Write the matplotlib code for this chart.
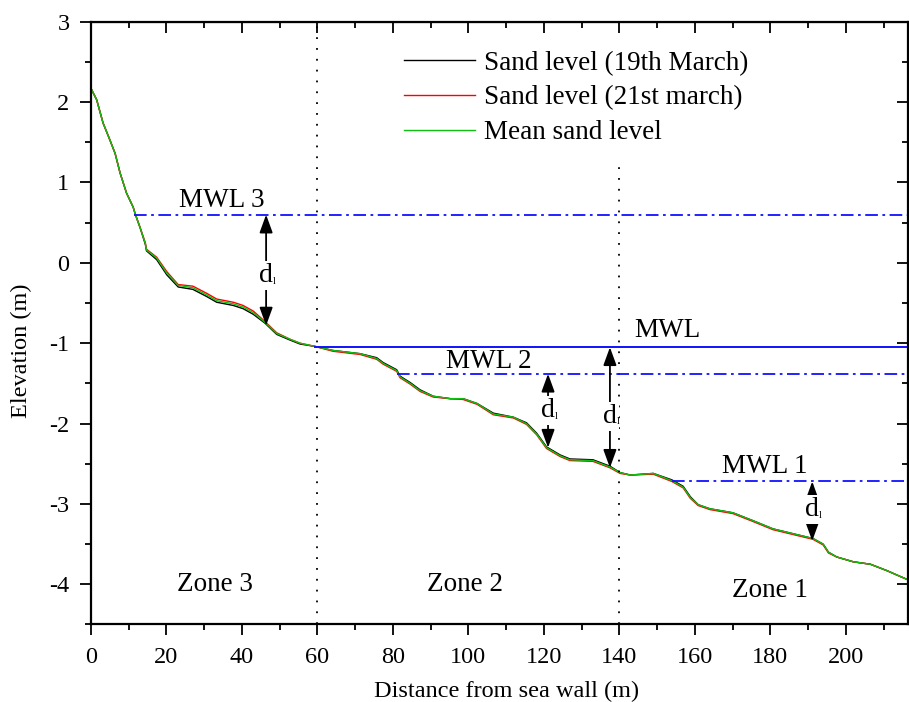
import numpy as np
import matplotlib.pyplot as plt

plt.rcParams['font.family'] = ['Liberation Serif', 'DejaVu Serif']
plt.rcParams['axes.unicode_minus'] = False

# distance from sea wall (m)
dist = [0.0, 1.5, 3.2, 5.0, 6.4, 7.7, 9.4, 11.2, 11.7, 13.0, 14.4, 14.7, 17.4, 20.1,
        23.1, 27.0, 30.7, 33.3, 37.7, 40.3, 43.0, 46.1, 49.2, 52.7, 55.4, 59.4, 64.1,
        71.3, 75.7, 77.4, 81.0, 81.9, 84.6, 87.2, 90.7, 95.2, 98.6, 102.3, 106.6, 111.9,
        115.4, 118.1, 120.7, 124.3, 126.9, 133.0, 137.5, 140.2, 142.9, 149.0, 153.9,
        156.9, 158.8, 160.9, 164.0, 170.1, 175.5, 180.7, 186.0, 191.3, 194.0, 195.4,
        197.6, 202.0, 206.5, 210.9, 214.3, 216.3]

# mean sand level
level_mean = [2.17, 2.03, 1.74, 1.53, 1.36, 1.12, 0.87, 0.69, 0.61, 0.44, 0.24, 0.16, 0.06, -0.13,
              -0.28, -0.31, -0.40, -0.47, -0.51, -0.55, -0.62, -0.74, -0.88, -0.95, -1.00, -1.04, -1.09,
              -1.13, -1.19, -1.25, -1.34, -1.42, -1.50, -1.59, -1.66, -1.69, -1.69, -1.75, -1.88, -1.92,
              -2.00, -2.13, -2.30, -2.40, -2.45, -2.46, -2.54, -2.61, -2.64, -2.62, -2.71,
              -2.79, -2.92, -3.01, -3.06, -3.11, -3.21, -3.31, -3.37, -3.43, -3.50, -3.60,
              -3.66, -3.72, -3.75, -3.83, -3.90, -3.94]

# sand level 19th March
level_19 = [2.17, 2.03, 1.74, 1.53, 1.36, 1.12, 0.87, 0.69, 0.61, 0.44, 0.23, 0.15, 0.04, -0.15,
            -0.30, -0.33, -0.42, -0.49, -0.53, -0.57, -0.64, -0.75, -0.89, -0.96, -1.01, -1.04, -1.09,
            -1.13, -1.18, -1.24, -1.33, -1.41, -1.49, -1.58, -1.66, -1.69, -1.69, -1.75, -1.87, -1.92,
            -1.99, -2.12, -2.29, -2.39, -2.44, -2.45, -2.53, -2.61, -2.64, -2.62, -2.70,
            -2.78, -2.91, -3.01, -3.06, -3.11, -3.21, -3.31, -3.37, -3.43, -3.50, -3.60,
            -3.66, -3.72, -3.75, -3.83, -3.90, -3.94]

# sand level 21st March
level_21 = [2.17, 2.03, 1.74, 1.53, 1.36, 1.12, 0.87, 0.69, 0.61, 0.44, 0.25, 0.17, 0.07, -0.11,
            -0.27, -0.29, -0.38, -0.45, -0.49, -0.53, -0.60, -0.73, -0.87, -0.95, -1.00, -1.04, -1.10,
            -1.14, -1.20, -1.26, -1.35, -1.43, -1.51, -1.60, -1.67, -1.69, -1.70, -1.76, -1.89, -1.93,
            -2.01, -2.14, -2.31, -2.41, -2.46, -2.47, -2.55, -2.62, -2.64, -2.63, -2.72,
            -2.80, -2.93, -3.02, -3.07, -3.12, -3.22, -3.32, -3.38, -3.44, -3.51, -3.61,
            -3.66, -3.72, -3.75, -3.83, -3.90, -3.94]

# water levels
mwl_levels = [0.60, -1.38, -2.72]
mwl_starts = [11.4, 81.1, 154.0]
mwl_main = -1.05
mwl_main_start = 59.4
mwl_labels = ['MWL 3', 'MWL 2', 'MWL', 'MWL 1']
mwl_lab_x = [34.7, 105.5, 152.6, 178.6]
mwl_lab_y = [0.78, -1.23, -0.84, -2.54]

# depth arrows: x position, top, bottom, label height
arrow_x = [46.4, 121.1, 137.5, 191.1]
arrow_top = [0.60, -1.38, -1.05, -2.72]
arrow_bot = [-0.78, -2.30, -2.55, -3.46]
arrow_lab_y = [-0.16, -1.84, -1.91, -3.07]

zone_names = ['Zone 3', 'Zone 2', 'Zone 1']
zone_x = [32.9, 99.1, 180.0]
zone_y = [-4.0, -4.0, -4.08]

xmax = 216.5

fig = plt.figure(figsize=(9.09, 7.02), dpi=100)
ax = fig.add_axes([0.1001, 0.1104, 0.8989, 0.8586])

ax.plot(dist, level_19, color='black', lw=1.0, label='Sand level (19th March)')
ax.plot(dist, level_21, color='red', lw=1.0, label='Sand level (21st march)')
ax.plot(dist, level_mean, color='#10c010', lw=1.0, label='Mean sand level')

# zone boundaries
ax.plot([60, 60], [-4.5, 3], color='black', lw=1.3, ls=(0, (1, 5)))
ax.plot([140, 140], [-4.5, 1.25], color='black', lw=1.3, ls=(0, (1, 5)))

# water levels
dashdot = (0, (7, 2.5, 1.5, 2.5))
for lev, x0 in zip(mwl_levels, mwl_starts):
    ax.plot([x0, xmax], [lev, lev], color='#1010ff', lw=1.3, ls=dashdot)
ax.plot([mwl_main_start, xmax], [mwl_main, mwl_main], color='#1010ff', lw=1.4)

for lab, lx, ly in zip(mwl_labels, mwl_lab_x, mwl_lab_y):
    ax.text(lx, ly, lab, fontsize=19.5, ha='center', va='center')

for x, yt, yb, yl in zip(arrow_x, arrow_top, arrow_bot, arrow_lab_y):
    ax.annotate('', xy=(x, yt), xytext=(x, yb),
                arrowprops=dict(arrowstyle='<|-|>,head_length=0.55,head_width=0.2',
                                mutation_scale=20, color='black', lw=1.3,
                                shrinkA=0, shrinkB=0))
    ax.text(x, yl, 'd', fontsize=20, ha='center', va='center',
            bbox=dict(facecolor='white', edgecolor='none', pad=1.5))
    ax.annotate('l', xy=(x, yl), xytext=(5, -4), textcoords='offset points',
                fontsize=7, ha='left', va='center')

for name, zx, zy in zip(zone_names, zone_x, zone_y):
    ax.text(zx, zy, name, fontsize=19.5, ha='center', va='center')

ax.set_xlim(0, xmax)
ax.set_ylim(-4.5, 3)
ax.set_xticks(np.arange(0, 201, 20))
ax.set_xticks(np.arange(10, 216, 10), minor=True)
ax.set_yticks(np.arange(-4, 3.1, 1))
ax.set_yticks(np.arange(-4.5, 3.0, 0.5), minor=True)
ax.tick_params(which='both', labelsize=17.5, width=1.3, direction='out')
ax.tick_params(which='major', length=8)
ax.tick_params(which='minor', length=4.5)
ax.tick_params(axis='x', which='major', pad=8.5)
ax.tick_params(axis='y', which='major', pad=7.5)
for s in ax.spines.values():
    s.set_linewidth(1.6)

# top and right ticks point inward
sec_x = ax.secondary_xaxis('top')
sec_x.set_xticks(np.arange(0, 201, 20))
sec_x.set_xticks(np.arange(10, 216, 10), minor=True)
sec_x.tick_params(which='both', direction='in', labeltop=False, width=1.3)
sec_x.tick_params(which='major', length=8)
sec_x.tick_params(which='minor', length=4.5)
sec_y = ax.secondary_yaxis('right')
sec_y.set_yticks(np.arange(-4, 3.1, 1))
sec_y.set_yticks(np.arange(-4.5, 3.0, 0.5), minor=True)
sec_y.tick_params(which='both', direction='in', labelright=False, width=1.3)
sec_y.tick_params(which='major', length=8)
sec_y.tick_params(which='minor', length=4.5)

ax.set_xlabel('Distance from sea wall (m)', fontsize=17.5)
ax.set_ylabel('Elevation (m)', fontsize=17.5)
ax.xaxis.set_label_coords(0.508, -0.093)
ax.yaxis.set_label_coords(-0.072, 0.455)

ax.legend(loc='upper left', bbox_to_anchor=(0.37, 0.97), frameon=False, fontsize=19.5,
          handlelength=2.6, handletextpad=0.35, labelspacing=0.36, borderaxespad=0)

fig.savefig('out.png', dpi=100)
